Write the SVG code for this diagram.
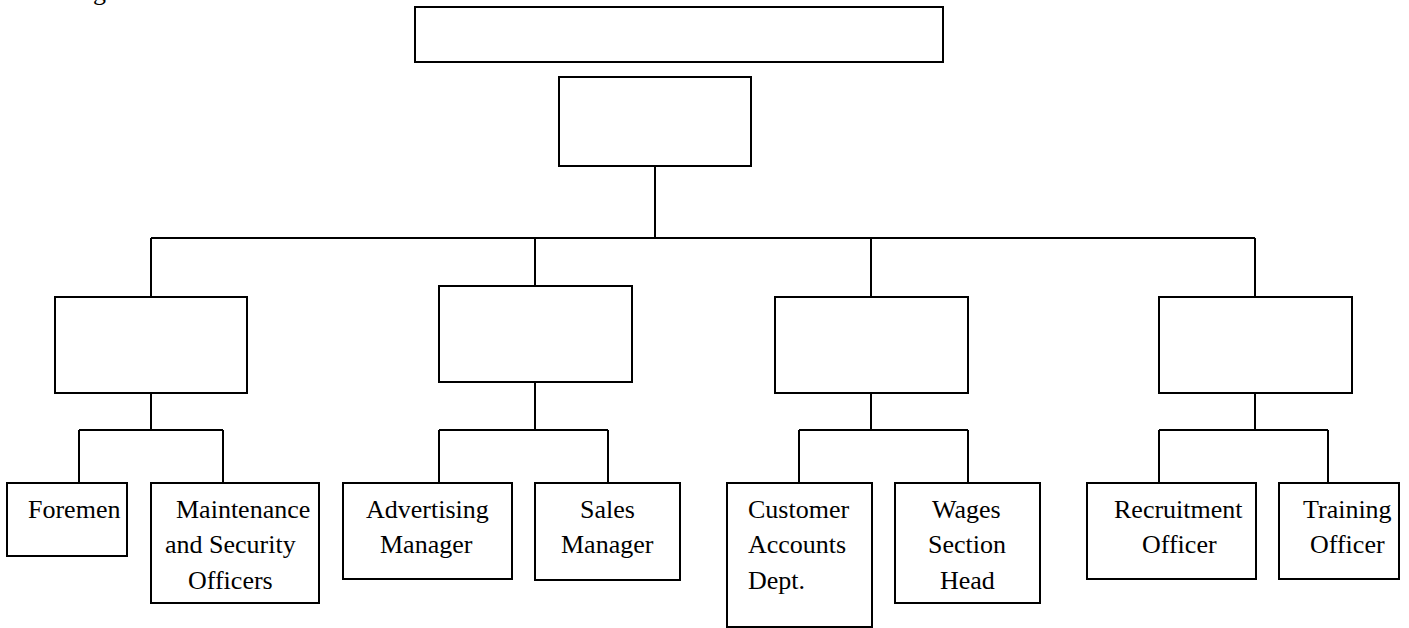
<svg xmlns="http://www.w3.org/2000/svg" width="1409" height="628" viewBox="0 0 1409 628">
<style>
.box{fill:#fff;stroke:#000;stroke-width:2}
.ln{fill:none;stroke:#000;stroke-width:2}
text{font-family:"Liberation Serif","Times New Roman",serif;font-size:26px;fill:#000}
</style>
<rect width="1409" height="628" fill="#fff"/>
<text x="93" y="0">g</text>
<g id="connectors">
<path class="ln" d="M655,166V238M151,238H1255M151,238V297M535,238V286M871,238V297M1255,238V297"/>
<path class="ln" d="M151,393V430M79,430H223M79,430V483M223,430V483"/>
<path class="ln" d="M535,382V430M439,430H608M439,430V483M608,430V483"/>
<path class="ln" d="M871,393V430M799,430H968M799,430V483M968,430V483"/>
<path class="ln" d="M1255,393V430M1159,430H1328M1159,430V483M1328,430V483"/>
</g>
<g id="top"><rect class="box" x="415" y="7" width="528" height="55"/></g>
<g id="head"><rect class="box" x="559" y="77" width="192" height="89"/></g>
<g id="dept1"><rect class="box" x="55" y="297" width="192" height="96"/></g>
<g id="dept2"><rect class="box" x="439" y="286" width="193" height="96"/></g>
<g id="dept3"><rect class="box" x="775" y="297" width="193" height="96"/></g>
<g id="dept4"><rect class="box" x="1159" y="297" width="193" height="96"/></g>
<g id="foremen"><rect class="box" x="7" y="483" width="120" height="73"/><text x="28" y="518">Foremen</text></g>
<g id="maintenance"><rect class="box" x="151" y="483" width="168" height="120"/><text x="176" y="518">Maintenance</text><text x="165" y="553">and Security</text><text x="188" y="589">Officers</text></g>
<g id="advertising"><rect class="box" x="343" y="483" width="169" height="96"/><text x="366" y="518">Advertising</text><text x="380" y="553">Manager</text></g>
<g id="sales"><rect class="box" x="535" y="483" width="145" height="97"/><text x="580" y="518">Sales</text><text x="561" y="553">Manager</text></g>
<g id="customer"><rect class="box" x="727" y="483" width="145" height="144"/><text x="748" y="518">Customer</text><text x="748" y="553">Accounts</text><text x="748" y="589">Dept.</text></g>
<g id="wages"><rect class="box" x="895" y="483" width="145" height="120"/><text x="932" y="518">Wages</text><text x="928" y="553">Section</text><text x="940" y="589">Head</text></g>
<g id="recruitment"><rect class="box" x="1087" y="483" width="169" height="96"/><text x="1114" y="518">Recruitment</text><text x="1142" y="553">Officer</text></g>
<g id="training"><rect class="box" x="1279" y="483" width="120" height="96"/><text x="1303" y="518">Training</text><text x="1310" y="553">Officer</text></g>
</svg>
